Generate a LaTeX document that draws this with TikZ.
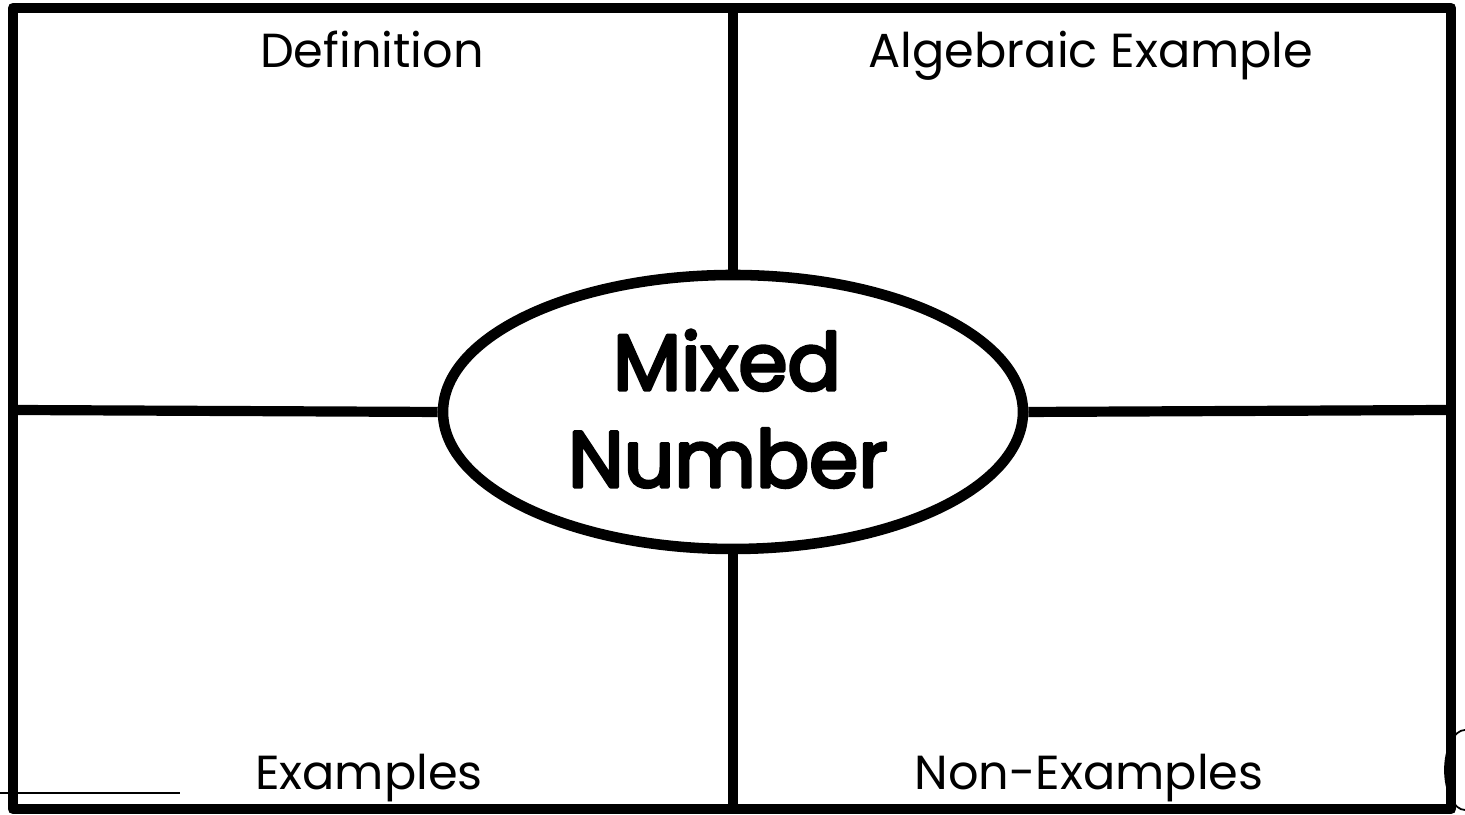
\documentclass[tikz,border=0pt]{standalone}
\usepackage{fontspec}
\setmainfont{Poppins}
\newfontfamily\topicfont[FakeBold=4]{Poppins}
\usepackage{tikz}
\usetikzlibrary{shapes.geometric}

\begin{document}
\begin{tikzpicture}[line join=round,
  frame/.style={line width=3.1pt},
  divider/.style={line width=2.9pt},
  title/.style={font=\fontsize{13.6}{16}\selectfont,inner sep=0pt,anchor=base},
  topicbox/.style={ellipse,draw,line width=3pt,fill=white,inner sep=0pt,
    minimum width=5.8cm,minimum height=2.74cm},
  topictext/.style={font=\topicfont\fontsize{22.5}{27.5}\selectfont,inner sep=0pt,anchor=base}]

  \useasboundingbox (0,0) rectangle (14.65,8.15);

  %% Frame corners and mid points
  \coordinate (tl) at (0.13,8.07);
  \coordinate (br) at (14.51,0.06);
  \coordinate (topmid) at (7.33,8.07);
  \coordinate (botmid) at (7.33,0.06);
  \coordinate (leftmid) at (0.13,4.05);
  \coordinate (rightmid) at (14.51,4.05);

  % Outer frame
  \draw[frame] (tl) rectangle (br);

  % Centre topic
  \node[topicbox] (topic) at (7.33,4.03) {};
  \node[topictext] (mixed) at (7.27,4.25) {Mixed};
  \node[topictext] (number) at (7.28,3.28) {Number};

  % Dividers
  \draw[divider] (topmid) -- (topic.north);
  \draw[divider] (topic.south) -- (botmid);
  \draw[divider] (leftmid) -- (topic.west);
  \draw[divider] (topic.east) -- (rightmid);

  % Quadrant titles
  \node[title] (def) at (3.72,7.47) {Definition};
  \node[title] (alg) at (10.91,7.47) {Algebraic Example};
  \node[title] (ex)  at (3.69,0.25) {Examples};
  \node[title] (nonex) at (10.89,0.25) {Non-Examples};

  % scan marks
  \draw[line width=0.4pt] (0,0.22) -- (1.8,0.22);
  \draw[line width=0.5pt] (14.65,0.85) arc (90:270:0.2 and 0.4);

\end{tikzpicture}
\end{document}
